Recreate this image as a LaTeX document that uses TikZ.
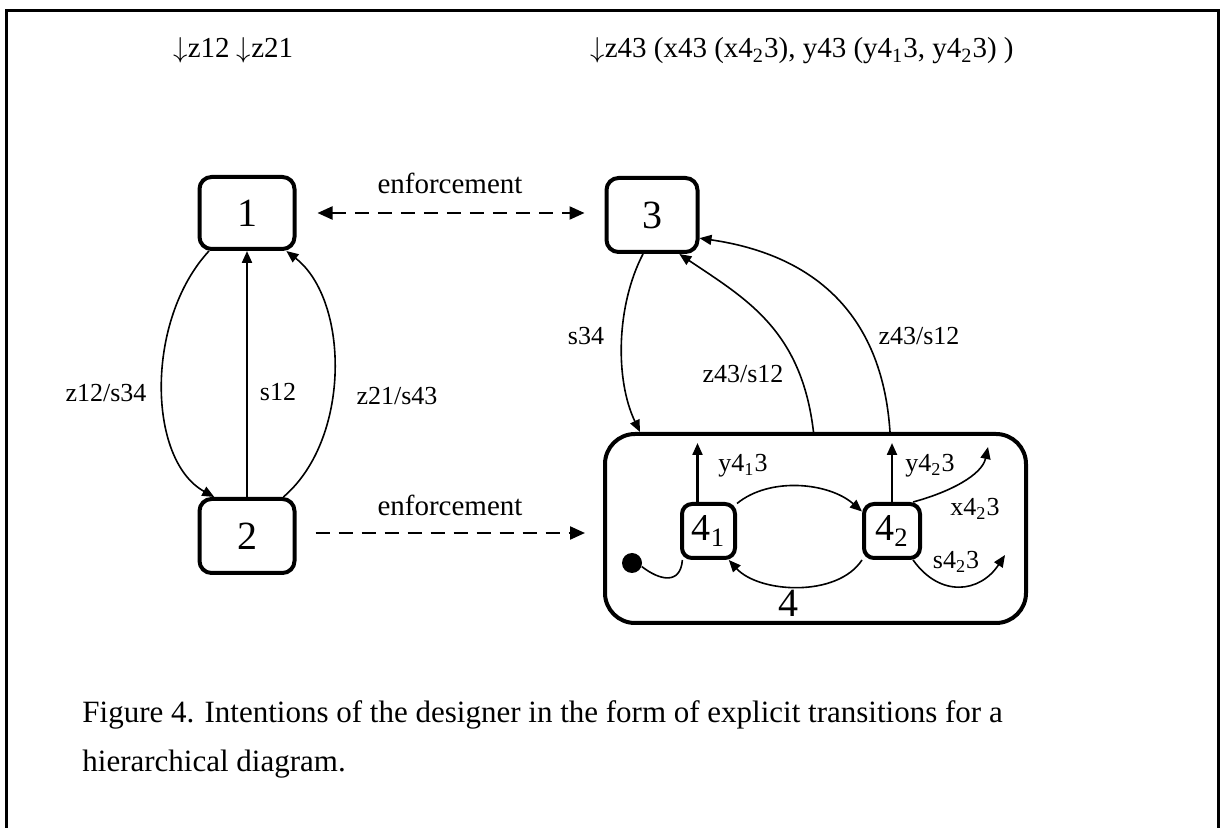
\documentclass[tikz,border=0pt]{standalone}
\usepackage{fontspec}
\setmainfont{Liberation Serif}
\usetikzlibrary{arrows.meta}
\newcommand{\darr}{$\downarrow$}
\begin{document}
\begin{tikzpicture}[x=0.5pt,y=-0.5pt,
  statebox/.style={draw,line width=2pt,rounded corners=6pt,inner sep=0pt,font=\fontsize{20}{24}\selectfont},
  substate/.style={draw,line width=2pt,rounded corners=5pt,inner sep=0pt,minimum height=27pt,font=\fontsize{19}{22}\selectfont},
  lbl/.style={inner sep=0pt,font=\fontsize{13}{15}\selectfont},
  enf/.style={inner sep=0pt,font=\fontsize{14.5}{17}\selectfont},
  trans/.style={line width=0.8pt,-{Triangle[length=6pt,width=5pt]}},
  straight/.style={line width=1.1pt,-{Triangle[length=6pt,width=5pt]}},
  dashedarrow/.style={line width=1.1pt,dash pattern=on 7pt off 4.5pt,-{Triangle[length=7.5pt,width=6.5pt]}},
  frameline/.style={line width=1.5pt}
]
\useasboundingbox (0,0) rectangle (1222,828);
\draw[frameline] (6.5,830) -- (6.5,10.5) -- (1218,10.5) -- (1218,830);

% top texts
\node[enf,anchor=base west] (toptxtl) at (173,58) {\darr z12 \darr z21};
\node[enf,anchor=base west] (toptxtr) at (590,58) {\darr z43 (x43 (x4\textsubscript{2}3), y43 (y4\textsubscript{1}3, y4\textsubscript{2}3) )};

% states
\node[statebox,minimum width=47.5pt,minimum height=36pt] (n1) at (247,213) {1};
\node[statebox,minimum width=47.5pt,minimum height=37pt] (n2) at (247,536) {2};
\node[statebox,minimum width=45.5pt,minimum height=37pt] (n3) at (652,215) {3};
\node[draw,line width=2pt,rounded corners=15pt,minimum width=210.5pt,minimum height=94.5pt,inner sep=0pt] (big) at (815.5,528.5) {};
\node[inner sep=0pt,font=\fontsize{20}{24}\selectfont] (lbl4) at (788,603) {4};
\node[substate,minimum width=26.5pt] (n41) at (708.5,531) {4\textsubscript{1}};
\node[substate,minimum width=28pt] (n42) at (892,531) {4\textsubscript{2}};
\node[circle,fill=black,inner sep=0pt,minimum size=10pt] (dot) at (632,563) {};

% enforcement
\draw[dashedarrow,{Triangle[length=7.5pt,width=6.5pt]}-{Triangle[length=7.5pt,width=6.5pt]},shorten <=10.5pt,shorten >=10pt] (n1.east) -- (n3.west |- n1.east);
\node[enf] (enf1) at (450,183) {enforcement};
\draw[dashedarrow,shorten <=9.5pt,shorten >=9pt] ([yshift=1.5pt]n2.east) -- ([yshift=1.5pt]big.west |- n2.east);
\node[enf] (enf2) at (450,505) {enforcement};

% left transitions
\draw[straight] (n2.north) -- (n1.south);
\node[lbl] (ls12) at (278,392) {s12};
\draw[trans] (n1.225) .. controls +(-64,69) and +(-67,-37) .. (n2.130);
\node[lbl] (lz12) at (106,393) {z12/s34};
\draw[trans] (n2.47) .. controls +(68,-58) and +(63,49) .. (n1.316);
\node[lbl] (lz21) at (397,396) {z21/s43};

% right transitions
\draw[trans] (n3.257) .. controls +(-27,52) and +(-25,-52) .. ([xshift=18.5pt]big.north west);
\node[lbl] (ls34) at (586,336) {s34};
\draw[trans] ([xshift=-1pt]big.north) .. controls +(-12,-102) and +(67,45) .. (n3.305);
\node[lbl] (lz43a) at (743,374) {z43/s12};
\draw[trans] ([xshift=37.25pt]big.north) .. controls +(-8,-122) and +(110,16) .. (n3.334);
\node[lbl] (lz43b) at (919,336) {z43/s12};

% inside 4
\coordinate (y41end) at (697.5,443);
\coordinate (y42end) at (892,443);
\coordinate (x42end) at (988,447);
\coordinate (s42end) at (1005,555);
\draw[straight] ([xshift=-5.5pt]n41.north) -- (y41end);
\node[lbl] (ly41) at (743,466) {y4\textsubscript{1}3};
\draw[straight] (n42.north) -- (y42end);
\node[lbl] (ly42) at (930,466) {y4\textsubscript{2}3};
\draw[trans] (n42.54) .. controls +(37,-10) and +(-6,28) .. (x42end);
\node[lbl] (lx42) at (975,509) {x4\textsubscript{2}3};
\draw[trans] (n42.306) .. controls +(27,38) and +(-25,38) .. (s42end);
\node[lbl] (ls42) at (956,562) {s4\textsubscript{2}3};
\draw[trans] (n41.44) .. controls +(33,-27) and +(-33,-29) .. (n42.147);
\draw[trans] (n42.224) .. controls +(-25,38) and +(30,33) .. (n41.305);
\draw[line width=0.8pt] (dot.-20) .. controls +(18,14) and +(-2,25) .. (n41.228);

% caption
\node[anchor=base west,inner sep=0pt,font=\fontsize{15.5}{23.5}\selectfont] (cap1) at (82,723) {Figure 4. Intentions of the designer in the form of explicit transitions for a};
\node[anchor=base west,inner sep=0pt,font=\fontsize{15.5}{23.5}\selectfont] (cap2) at (82,771) {hierarchical diagram.};
\end{tikzpicture}
\end{document}
